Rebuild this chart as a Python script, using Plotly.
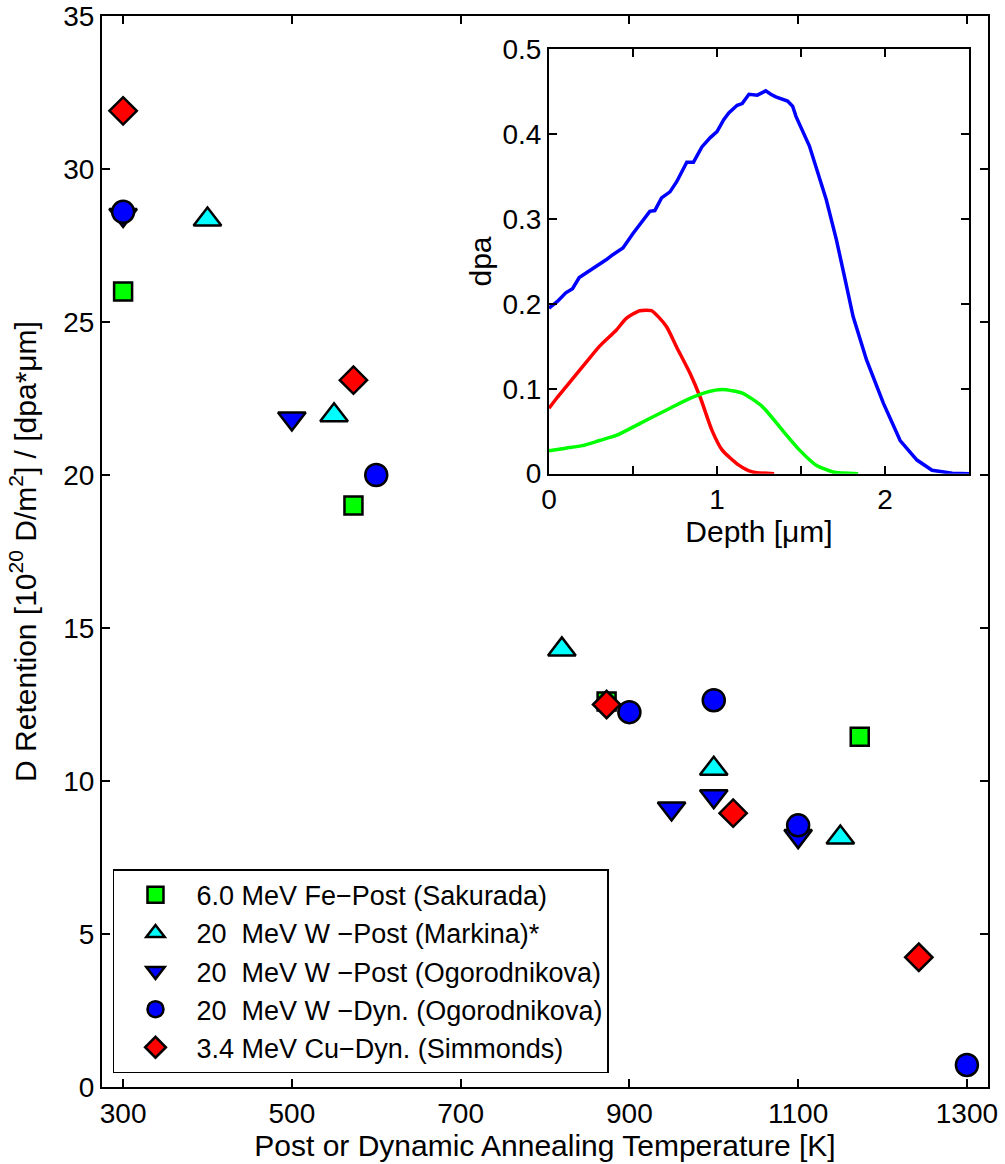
import plotly.graph_objects as go

# ---- main panel data ----
fe_T = [300, 573, 873, 1173]
fe_R = [26.0, 19.0, 12.6, 11.45]

mk_T = [400, 550, 820, 1000, 1150]
mk_R = [28.35, 21.95, 14.3, 10.4, 8.15]

ogp_T = [300, 500, 950, 1000, 1100]
ogp_R = [28.5, 21.85, 9.1, 9.5, 8.2]

ogd_T = [300, 600, 900, 1000, 1100, 1300]
ogd_R = [28.6, 20.0, 12.25, 12.64, 8.55, 0.72]

cu_T = [300, 573, 873, 1023, 1243]
cu_R = [31.9, 23.1, 12.5, 8.95, 4.24]

# ---- inset data ----
depth_W = [0, 0.05, 0.1, 0.14, 0.18, 0.25, 0.3, 0.34, 0.38, 0.44, 0.5, 0.55, 0.6, 0.63,
           0.67, 0.72, 0.76, 0.82, 0.86, 0.91, 0.96, 1.0, 1.04, 1.07, 1.12, 1.15, 1.19,
           1.24, 1.29, 1.32, 1.35, 1.42, 1.45, 1.47, 1.55, 1.65, 1.71, 1.76, 1.81, 1.89,
           1.99, 2.09, 2.19, 2.28, 2.4, 2.5]
dpa_W = [0.195, 0.203, 0.213, 0.218, 0.231, 0.240, 0.246, 0.252, 0.258, 0.266, 0.283, 0.296,
         0.309, 0.310, 0.325, 0.332, 0.344, 0.367, 0.367, 0.385, 0.396, 0.403, 0.417, 0.425,
         0.434, 0.436, 0.447, 0.446, 0.451, 0.447, 0.444, 0.439, 0.433, 0.421, 0.386, 0.323,
         0.276, 0.231, 0.185, 0.134, 0.083, 0.039, 0.016, 0.004, 0.0005, 0.0]

depth_Cu = [0.0, 0.05, 0.1, 0.2, 0.3, 0.4, 0.46, 0.54, 0.61, 0.65, 0.7, 0.76, 0.84, 0.9,
            0.97, 1.03, 1.13, 1.21, 1.34]
dpa_Cu = [0.077, 0.090, 0.102, 0.126, 0.150, 0.169, 0.183, 0.192, 0.192, 0.185, 0.173,
          0.149, 0.118, 0.090, 0.051, 0.028, 0.010, 0.002, 0.0]

depth_Fe = [0.0, 0.1, 0.2, 0.3, 0.4, 0.54, 0.7, 0.82, 0.94, 1.03, 1.15, 1.27, 1.39, 1.49,
            1.59, 1.69, 1.84]
dpa_Fe = [0.027, 0.030, 0.033, 0.039, 0.045, 0.059, 0.075, 0.087, 0.096, 0.099, 0.095,
          0.079, 0.051, 0.028, 0.010, 0.002, 0.0]

x_ticks = [300, 500, 700, 900, 1100, 1300]
y_ticks = [0, 5, 10, 15, 20, 25, 30, 35]
inset_xticks = [0, 0.5, 1, 1.5, 2, 2.5]
inset_xlabels = ["0", "", "1", "", "2", ""]
inset_yticks = [0, 0.1, 0.2, 0.3, 0.4, 0.5]
inset_ylabels = ["0", "0.1", "0.2", "0.3", "0.4", "0.5"]

FONT = "Liberation Sans"
NB = "\u00a0"
TICK = 28
TITLE = 30
LEG = 27

fig = go.Figure()

def add_main(x, y, name, symbol, color, size):
    fig.add_trace(go.Scatter(
        x=x, y=y, mode="markers", name=name,
        marker=dict(symbol=symbol, color=color, size=size,
                    line=dict(color="black", width=2.5)),
        xaxis="x", yaxis="y"))

add_main(fe_T, fe_R, "6.0" + NB + "MeV Fe\u2212Post (Sakurada)", "square", "#00FF00", 18)
add_main(mk_T, mk_R, "20" + NB + NB + "MeV W" + NB + "\u2212Post (Markina)*", "triangle-up", "#00FFFF", 24)
add_main(ogp_T, ogp_R, "20" + NB + NB + "MeV W" + NB + "\u2212Post (Ogorodnikova)", "triangle-down", "#0000FF", 24)
add_main(ogd_T, ogd_R, "20" + NB + NB + "MeV W" + NB + "\u2212Dyn. (Ogorodnikova)", "circle", "#0000FF", 22)
add_main(cu_T, cu_R, "3.4" + NB + "MeV Cu\u2212Dyn. (Simmonds)", "diamond", "#FF0000", 21)

for x, y, c, shp in [(depth_W, dpa_W, "#0000FF", "linear"),
                     (depth_Cu, dpa_Cu, "#FF0000", "spline"),
                     (depth_Fe, dpa_Fe, "#00FF00", "spline")]:
    fig.add_trace(go.Scatter(x=x, y=y, mode="lines",
                             line=dict(color=c, width=3.5, shape=shp, smoothing=0.6),
                             showlegend=False, xaxis="x2", yaxis="y2"))

axis_common = dict(showline=True, linecolor="black", linewidth=2, mirror="allticks",
                   ticks="inside", ticklen=8, tickwidth=1.5, tickcolor="black",
                   showgrid=False, zeroline=False, automargin=False)

fig.update_layout(
    template="none",
    width=1005, height=1164,
    margin=dict(l=102, r=17, t=16, b=77, autoexpand=False),
    paper_bgcolor="white", plot_bgcolor="white",
    font=dict(family=FONT, size=TICK, color="black"),
    xaxis=dict(range=[275, 1325], tickvals=x_ticks, domain=[0, 1],
               title=dict(text="Post or Dynamic Annealing Temperature [K]", standoff=2,
                          font=dict(family=FONT, size=TITLE)),
               tickfont=dict(family=FONT, size=TICK), **axis_common),
    yaxis=dict(range=[0, 35], tickvals=y_ticks, domain=[0, 1],
               title=dict(text="D Retention [10<sup>20</sup> D/m<sup>2</sup>] / [dpa*\u03bcm]",
                          standoff=18, font=dict(family=FONT, size=TITLE)),
               tickfont=dict(family=FONT, size=TICK), **axis_common),
    xaxis2=dict(range=[0, 2.5], tickvals=inset_xticks, ticktext=inset_xlabels,
                domain=[0.5045, 0.9786], anchor="y2",
                title=dict(text="Depth [\u03bcm]", standoff=0, font=dict(family=FONT, size=TITLE)),
                tickfont=dict(family=FONT, size=TICK), **axis_common),
    yaxis2=dict(range=[0, 0.5], tickvals=inset_yticks, ticktext=inset_ylabels,
                domain=[0.5727, 0.9689], anchor="x2",
                title=dict(text="dpa", standoff=2, font=dict(family=FONT, size=TITLE)),
                tickfont=dict(family=FONT, size=TICK), **axis_common),
    legend=dict(x=0.0124, y=0.0128, xanchor="left", yanchor="bottom",
                bgcolor="white", bordercolor="black", borderwidth=1.5,
                font=dict(family=FONT, size=LEG), itemsizing="trace", tracegroupgap=0,
                itemwidth=72),
    showlegend=True,
)

fig.write_html("out.html")
